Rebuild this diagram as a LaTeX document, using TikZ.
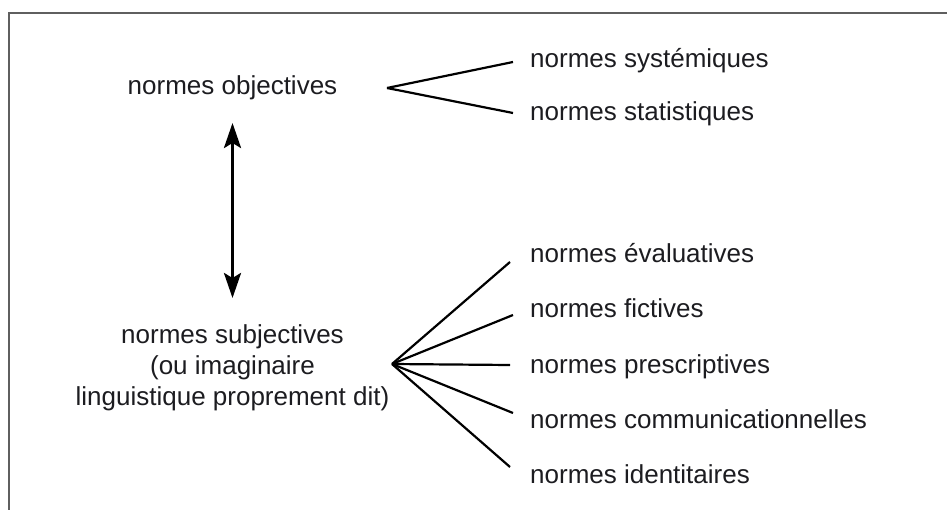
\documentclass[tikz,border=0pt]{standalone}
\usepackage{fontspec}
\setmainfont{Liberation Sans}
\definecolor{framegray}{RGB}{95, 95, 95}
\definecolor{inkdark}{RGB}{28, 28, 32}
\usetikzlibrary{arrows.meta, positioning, calc}

\begin{document}
\begin{tikzpicture}[x=1pt, y=-1pt,
    lbl/.style={font=\fontsize{26pt}{31pt}\selectfont, text=inkdark, inner sep=0pt},
    branch/.style={line width=2.2pt, black},
    dblarrow/.style={{Stealth[length=25pt, width=17pt, inset=5pt]}-{Stealth[length=25pt, width=17pt, inset=5pt]}, line width=3pt, black}]
  \useasboundingbox (0,0) rectangle (947,510);

  % Frame (only top and left edges remain)
  \draw[framegray, line width=1.7pt] (9,510) -- (9,13) -- (947,13);

  % Objective norms
  \node[lbl, anchor=base] (obj) at (232.5,95) {normes objectives};
  \node[lbl, anchor=base west] (sys) at (530,68) {normes systémiques};
  \node[lbl, anchor=base west] (sta) at (530,121) {normes statistiques};
  \coordinate (fanA) at (387,88);
  \draw[branch] (fanA) -- ([shift={(-17pt,6pt)}]sys.base west);
  \draw[branch] (fanA) -- ([shift={(-17pt,8pt)}]sta.base west);

  % Subjective norms (base = last line)
  \node[lbl, anchor=base, align=center] (sub) at (232.5,405) {normes subjectives\\(ou imaginaire\\linguistique proprement dit)};
  \node[lbl, anchor=base west] (eva) at (530,263) {normes évaluatives};
  \node[lbl, anchor=base west] (fic) at (530,318) {normes fictives};
  \node[lbl, anchor=base west] (pre) at (530,373) {normes prescriptives};
  \node[lbl, anchor=base west] (com) at (530,428) {normes communicationnelles};
  \node[lbl, anchor=base west] (ide) at (530,483) {normes identitaires};
  \coordinate (fanB) at (392,364);
  \draw[branch] (fanB) -- ([shift={(-20pt,1pt)}]eva.base west);
  \draw[branch] (fanB) -- ([shift={(-17pt,3pt)}]fic.base west);
  \draw[branch] (fanB) -- ([shift={(-20pt,8pt)}]pre.base west);
  \draw[branch] (fanB) -- ([shift={(-17pt,15pt)}]com.base west);
  \draw[branch] (fanB) -- ([shift={(-20pt,16pt)}]ide.base west);

  % Link between the two kinds
  \coordinate (tipA) at ($(obj.base)+(0,28)$);
  \coordinate (tipB) at (232.5,298);
  \draw[dblarrow] (tipA) -- (tipB);
\end{tikzpicture}
\end{document}
